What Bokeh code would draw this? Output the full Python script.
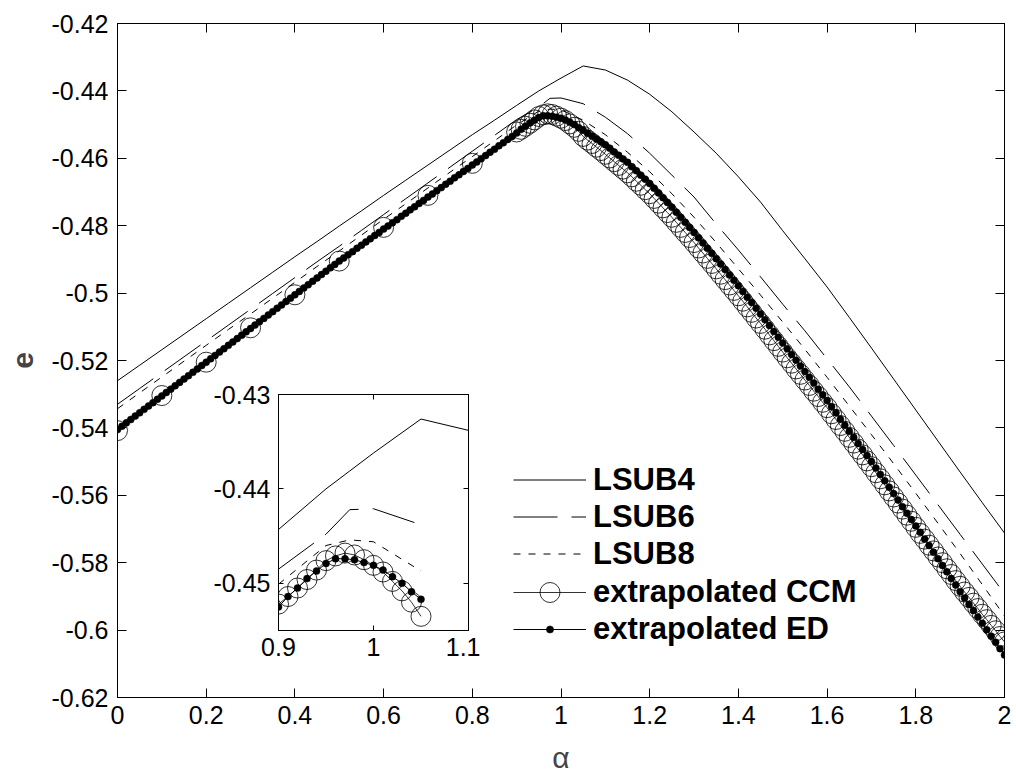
import numpy as np
from bokeh.plotting import figure
from bokeh.models import (Range1d, LinearAxis, FixedTicker, CustomJSTickFormatter,
                          Legend, LegendItem, GridBox)
from bokeh.embed import file_html
from bokeh.resources import INLINE

# ---------------- data ----------------
lsub_alpha = [0.0, 0.05, 0.1, 0.15, 0.2, 0.25, 0.3, 0.35, 0.4, 0.45, 0.5, 0.55, 0.6, 0.65,
              0.7, 0.75, 0.8, 0.85, 0.9, 0.95, 0.975, 1.0, 1.05, 1.1, 1.15, 1.2, 1.25, 1.3,
              1.35, 1.4, 1.45, 1.5, 1.55, 1.6, 1.65, 1.7, 1.75, 1.8, 1.85, 1.9, 1.95, 2.0]

lsub4 = [-0.5260, -0.5214, -0.5168, -0.5122, -0.5076, -0.5030, -0.4984, -0.4938, -0.4892,
         -0.4847, -0.4801, -0.4756, -0.4710, -0.4665, -0.4620, -0.4575, -0.4530, -0.4487,
         -0.4443, -0.4400, -0.4381, -0.4362, -0.4326, -0.4338, -0.4368, -0.4410, -0.4462,
         -0.4522, -0.4585, -0.4655, -0.4730, -0.4815, -0.4898, -0.4982, -0.5072, -0.5163,
         -0.5255, -0.5347, -0.5439, -0.5531, -0.5622, -0.5712]

lsub6 = [-0.5330, -0.5283, -0.5236, -0.5189, -0.5142, -0.5095, -0.5048, -0.5001, -0.4954,
         -0.4907, -0.4861, -0.4814, -0.4767, -0.4720, -0.4673, -0.4626, -0.4579, -0.4532,
         -0.4485, -0.4448, -0.4422, -0.4421, -0.4438, -0.4478, -0.4527, -0.4585, -0.4650,
         -0.4715, -0.4795, -0.4872, -0.4952, -0.5033, -0.5112, -0.5195, -0.5278, -0.5365,
         -0.5452, -0.5540, -0.5628, -0.5716, -0.5804, -0.5892]

lsub8 = [-0.5343, -0.5296, -0.5249, -0.5202, -0.5155, -0.5108, -0.5062, -0.5015, -0.4968,
         -0.4921, -0.4875, -0.4828, -0.4781, -0.4735, -0.4688, -0.4641, -0.4595, -0.4548,
         -0.4501, -0.4460, -0.4454, -0.4456, -0.4487, -0.4530, -0.4582, -0.4640, -0.4705,
         -0.4775, -0.4850, -0.4928, -0.5006, -0.5086, -0.5167, -0.5250, -0.5335, -0.5420,
         -0.5506, -0.5594, -0.5683, -0.5773, -0.5865, -0.5958]

# extrapolated ED: alpha = 0.00, 0.01, ..., 2.00
ed_alpha = [round(0.01 * i, 2) for i in range(201)]
ed = [-0.5405, -0.5395, -0.5385, -0.5375, -0.5365, -0.5355, -0.5345, -0.5335, -0.5325, -0.5315,
      -0.5305, -0.5295, -0.5285, -0.5275, -0.5265, -0.5255, -0.5245, -0.5235, -0.5225, -0.5215,
      -0.5205, -0.5195, -0.5185, -0.5175, -0.5165, -0.5155, -0.5145, -0.5135, -0.5125, -0.5115,
      -0.5105, -0.5095, -0.5085, -0.5075, -0.5065, -0.5055, -0.5045, -0.5035, -0.5025, -0.5015,
      -0.5005, -0.4995, -0.4985, -0.4975, -0.4965, -0.4955, -0.4945, -0.4935, -0.4925, -0.4915,
      -0.4905, -0.4896, -0.4886, -0.4877, -0.4867, -0.4858, -0.4848, -0.4839, -0.4829, -0.4820,
      -0.4810, -0.4801, -0.4791, -0.4782, -0.4772, -0.4763, -0.4753, -0.4744, -0.4734, -0.4725,
      -0.4715, -0.4706, -0.4696, -0.4687, -0.4677, -0.4668, -0.4658, -0.4649, -0.4639, -0.4630,
      -0.4620, -0.4611, -0.4601, -0.4592, -0.4582, -0.4573, -0.4563, -0.4554, -0.4544, -0.4535,
      -0.4525, -0.4514, -0.4505, -0.4495, -0.4487, -0.4479, -0.4474, -0.4474, -0.4475, -0.4478,
      -0.4481, -0.4486, -0.4493, -0.4500, -0.4509, -0.4517, -0.4526, -0.4534, -0.4543, -0.4551,
      -0.4560, -0.4570, -0.4581, -0.4591, -0.4602, -0.4612, -0.4625, -0.4637, -0.4650, -0.4662,
      -0.4675, -0.4689, -0.4703, -0.4717, -0.4731, -0.4745, -0.4760, -0.4775, -0.4790, -0.4805,
      -0.4820, -0.4836, -0.4851, -0.4867, -0.4882, -0.4898, -0.4914, -0.4930, -0.4946, -0.4962,
      -0.4978, -0.4995, -0.5012, -0.5028, -0.5045, -0.5062, -0.5079, -0.5096, -0.5114, -0.5131,
      -0.5148, -0.5165, -0.5182, -0.5199, -0.5216, -0.5233, -0.5250, -0.5267, -0.5285, -0.5302,
      -0.5319, -0.5337, -0.5355, -0.5374, -0.5392, -0.5410, -0.5428, -0.5446, -0.5464, -0.5482,
      -0.5500, -0.5519, -0.5538, -0.5557, -0.5576, -0.5595, -0.5614, -0.5634, -0.5653, -0.5672,
      -0.5691, -0.5710, -0.5730, -0.5749, -0.5769, -0.5788, -0.5808, -0.5827, -0.5847, -0.5866,
      -0.5886, -0.5905, -0.5924, -0.5942, -0.5961, -0.5980, -0.5999, -0.6018, -0.6036, -0.6055,
      -0.6074]

# extrapolated CCM: alpha = 0.0..0.8 step 0.1, then 0.90..2.00 step 0.01
ccm_alpha = [0.0, 0.1, 0.2, 0.3, 0.4, 0.5, 0.6, 0.7, 0.8] + [round(0.9 + 0.01 * i, 2) for i in range(111)]
ccm = [-0.5408, -0.5304, -0.5205, -0.5103, -0.5005, -0.4905, -0.4805, -0.4710, -0.4615,
       -0.4522, -0.4514, -0.4505, -0.4496, -0.4486, -0.4476, -0.4471, -0.4468, -0.4470, -0.4475,
       -0.4481, -0.4488, -0.4498, -0.4508, -0.4520, -0.4535, -0.4546, -0.4556, -0.4567, -0.4577,
       -0.4588, -0.4599, -0.4610, -0.4621, -0.4632, -0.4643, -0.4655, -0.4668, -0.4680, -0.4693,
       -0.4705, -0.4719, -0.4733, -0.4747, -0.4761, -0.4775, -0.4790, -0.4805, -0.4820, -0.4835,
       -0.4850, -0.4866, -0.4881, -0.4897, -0.4912, -0.4928, -0.4944, -0.4960, -0.4976, -0.4992,
       -0.5008, -0.5024, -0.5041, -0.5057, -0.5074, -0.5090, -0.5107, -0.5124, -0.5141, -0.5158,
       -0.5175, -0.5192, -0.5208, -0.5225, -0.5241, -0.5258, -0.5274, -0.5291, -0.5307, -0.5324,
       -0.5340, -0.5358, -0.5375, -0.5393, -0.5410, -0.5428, -0.5445, -0.5463, -0.5480, -0.5498,
       -0.5515, -0.5533, -0.5551, -0.5569, -0.5587, -0.5605, -0.5623, -0.5641, -0.5659, -0.5677,
       -0.5695, -0.5713, -0.5730, -0.5748, -0.5765, -0.5783, -0.5800, -0.5818, -0.5835, -0.5853,
       -0.5870, -0.5887, -0.5903, -0.5920, -0.5936, -0.5953, -0.5969, -0.5986, -0.6002, -0.6019,
       -0.6035]

x_ticks = [0, 0.2, 0.4, 0.6, 0.8, 1.0, 1.2, 1.4, 1.6, 1.8, 2.0]
x_tick_labels = ["0", "0.2", "0.4", "0.6", "0.8", "1", "1.2", "1.4", "1.6", "1.8", "2"]
y_ticks = [-0.62, -0.6, -0.58, -0.56, -0.54, -0.52, -0.5, -0.48, -0.46, -0.44, -0.42]
y_tick_labels = ["-0.62", "-0.6", "-0.58", "-0.56", "-0.54", "-0.52", "-0.5", "-0.48",
                 "-0.46", "-0.44", "-0.42"]
inset_x_ticks = [0.9, 1.0, 1.1]
inset_x_tick_labels = ["0.9", "1", "1.1"]
inset_y_ticks = [-0.45, -0.44, -0.43]
inset_y_tick_labels = ["-0.45", "-0.44", "-0.43"]

labels = ["LSUB4", "LSUB6", "LSUB8", "extrapolated CCM", "extrapolated ED"]

FONT = "Liberation Sans"
EMPTY = CustomJSTickFormatter(code="return ''")


def style_axis(ax, ticks, tlabels, tick_len, standoff):
    ax.ticker = FixedTicker(ticks=ticks)
    ax.major_label_overrides = {t: l for t, l in zip(ticks, tlabels)}
    ax.major_tick_in = tick_len
    ax.major_tick_out = 0
    ax.minor_tick_line_color = None
    ax.axis_line_color = "black"
    ax.major_tick_line_color = "black"
    ax.major_label_text_font = FONT
    ax.major_label_text_font_size = "25px"
    ax.major_label_text_color = "black"
    ax.major_label_standoff = standoff


def mirror_axis(ticks, tick_len):
    ax = LinearAxis(ticker=FixedTicker(ticks=ticks), formatter=EMPTY)
    ax.major_tick_in = tick_len
    ax.major_tick_out = 0
    ax.minor_tick_line_color = None
    ax.axis_line_color = "black"
    ax.major_tick_line_color = "black"
    ax.major_label_text_font_size = "1px"
    ax.major_label_standoff = 0
    return ax


def draw_series(fig, a4, v4, a6, v6, a8, v8, ac, vc, ae, ve):
    r4 = fig.line(a4, v4, line_color="black", line_width=1)
    r6 = fig.line(a6, v6, line_color="black", line_width=1, line_dash="44 14")
    r8 = fig.line(a8, v8, line_color="black", line_width=1, line_dash="7 8")
    rcl = fig.line(ac, vc, line_color="black", line_width=0.8)
    rcs = fig.scatter(ac, vc, marker="circle", size=20, fill_color=None,
                      line_color="black", line_width=0.8)
    rel = fig.line(ae, ve, line_color="black", line_width=1)
    res = fig.scatter(ae, ve, marker="circle", size=7, fill_color="black",
                      line_color="black", line_width=0.5)
    return r4, r6, r8, rcl, rcs, rel, res


def make_legend(items, loc, gh):
    return Legend(items=items, location=loc, orientation="vertical", padding=0, margin=0,
                  border_line_color=None, background_fill_alpha=0,
                  label_text_font=FONT, label_text_font_style="bold",
                  label_text_font_size="31px", label_text_color="black",
                  glyph_width=73, glyph_height=gh, label_height=gh, spacing=0,
                  label_standoff=7)


# ---------------- main figure ----------------
p = figure(width=1016, height=776, x_range=Range1d(0, 2), y_range=Range1d(-0.62, -0.42),
           output_backend="svg", toolbar_location=None,
           min_border_left=117, min_border_right=12, min_border_top=23, min_border_bottom=79,
           background_fill_color="white", border_fill_color="white",
           outline_line_color="black", outline_line_width=1)
p.grid.visible = False

style_axis(p.xaxis[0], x_ticks, x_tick_labels, 9, 8)
style_axis(p.yaxis[0], y_ticks, y_tick_labels, 9, 9)
p.xaxis[0].axis_label = "α"
p.xaxis[0].axis_label_text_font = FONT
p.xaxis[0].axis_label_text_font_size = "30px"
p.xaxis[0].axis_label_text_font_style = "normal"
p.xaxis[0].axis_label_standoff = 14
p.yaxis[0].axis_label = "e"
p.yaxis[0].axis_label_text_font = FONT
p.yaxis[0].axis_label_text_font_size = "30px"
p.yaxis[0].axis_label_text_font_style = "bold"
p.yaxis[0].axis_label_standoff = 16
p.add_layout(mirror_axis(x_ticks, 9), "above")
p.add_layout(mirror_axis(y_ticks, 9), "right")

r4, r6, r8, rcl, rcs, rel, res = draw_series(p, lsub_alpha, lsub4, lsub_alpha, lsub6,
                                             lsub_alpha, lsub8, ccm_alpha, ccm, ed_alpha, ed)

leg_lines = make_legend([LegendItem(label=labels[0], renderers=[r4]),
                         LegendItem(label=labels[1], renderers=[r6]),
                         LegendItem(label=labels[2], renderers=[r8])], (396, 125), 37)
leg_ccm = make_legend([LegendItem(label=labels[3], renderers=[rcl, rcs])], (396, 80), 50)
leg_ed = make_legend([LegendItem(label=labels[4], renderers=[rel, res])], (396, 50), 18)
for lg in (leg_lines, leg_ccm, leg_ed):
    p.add_layout(lg)

# ---------------- inset ----------------
def sel(a, v, lo, hi):
    pairs = [(x, y) for x, y in zip(a, v) if lo - 1e-9 <= x <= hi + 1e-9]
    return [q[0] for q in pairs], [q[1] for q in pairs]

i4a, i4v = sel(lsub_alpha, lsub4, 0.9, 1.1)
i6a, i6v = sel(lsub_alpha, lsub6, 0.9, 1.05)
i8a, i8v = sel(lsub_alpha, lsub8, 0.9, 1.05)
ica, icv = sel(ccm_alpha, ccm, 0.9, 1.05)
iea, iev = sel(ed_alpha, ed, 0.9, 1.05)

# the grid aligns frame borders with the main figure, so use the same borders
ins = figure(width=319, height=338, x_range=Range1d(0.9, 1.1),
             y_range=Range1d(-0.455, -0.43), output_backend="svg", toolbar_location=None,
             min_border_left=117, min_border_right=12, min_border_top=23, min_border_bottom=79,
             background_fill_color="white", border_fill_alpha=0,
             outline_line_color="black", outline_line_width=1,
             margin=(371, 0, 0, 161))
ins.grid.visible = False
style_axis(ins.xaxis[0], inset_x_ticks, inset_x_tick_labels, 5, 7)
style_axis(ins.yaxis[0], inset_y_ticks, inset_y_tick_labels, 5, 8)
ins.add_layout(mirror_axis(inset_x_ticks, 5), "above")
ins.add_layout(mirror_axis(inset_y_ticks, 5), "right")
draw_series(ins, i4a, i4v, i6a, i6v, i8a, i8v, ica, icv, iea, iev)

grid = GridBox(children=[(p, 0, 0), (ins, 0, 0)])

open("out.html", "w").write(file_html(grid, INLINE))
